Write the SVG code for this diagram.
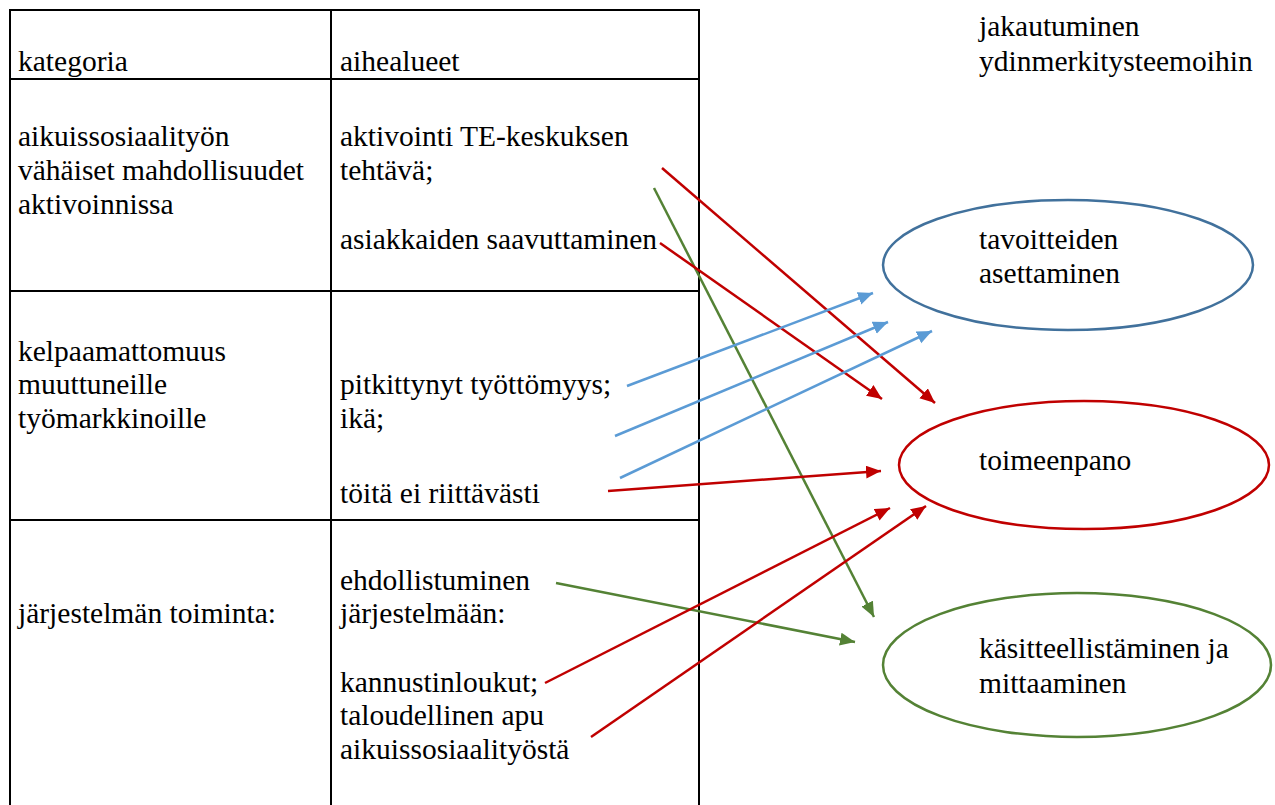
<svg xmlns="http://www.w3.org/2000/svg" width="1275" height="805" viewBox="0 0 1275 805">
<style>
.t{font-family:'Times New Roman','Liberation Serif',Tinos,serif;font-size:29.5px;fill:#000}
</style>
<defs>
<marker id="mr" markerUnits="userSpaceOnUse" markerWidth="16" markerHeight="14" refX="15" refY="6.5" orient="auto"><path d="M0,0 L15,6.5 L0,13 z" fill="#C00000"/></marker>
<marker id="mb" markerUnits="userSpaceOnUse" markerWidth="16" markerHeight="14" refX="15" refY="6.5" orient="auto"><path d="M0,0 L15,6.5 L0,13 z" fill="#5B9BD5"/></marker>
<marker id="mg" markerUnits="userSpaceOnUse" markerWidth="16" markerHeight="14" refX="15" refY="6.5" orient="auto"><path d="M0,0 L15,6.5 L0,13 z" fill="#548235"/></marker>
</defs>
<rect width="1275" height="805" fill="#fff"/>
<g id="table">
<path stroke="#000" stroke-width="2" fill="none" d="M10,805 V10 H699 V805 M331,10 V805 M10,79 H699 M10,291 H699 M10,520 H699"/>
<text class="t" x="18" y="71">kategoria</text>
<text class="t" x="340" y="71">aihealueet</text>
<text class="t" x="18" y="146">aikuissosiaalityön</text>
<text class="t" x="18" y="180">vähäiset mahdollisuudet</text>
<text class="t" x="18" y="214">aktivoinnissa</text>
<text class="t" x="340" y="146">aktivointi TE-keskuksen</text>
<text class="t" x="340" y="180">tehtävä;</text>
<text class="t" x="340" y="249">asiakkaiden saavuttaminen</text>
<text class="t" x="18" y="361">kelpaamattomuus</text>
<text class="t" x="18" y="394">muuttuneille</text>
<text class="t" x="18" y="428">työmarkkinoille</text>
<text class="t" x="340" y="394">pitkittynyt työttömyys;</text>
<text class="t" x="340" y="428">ikä;</text>
<text class="t" x="340" y="503">töitä ei riittävästi</text>
<text class="t" x="18" y="623">järjestelmän toiminta:</text>
<text class="t" x="340" y="590">ehdollistuminen</text>
<text class="t" x="340" y="623">järjestelmään:</text>
<text class="t" x="340" y="692">kannustinloukut;</text>
<text class="t" x="340" y="725">taloudellinen apu</text>
<text class="t" x="340" y="759">aikuissosiaalityöstä</text>
</g>
<g id="title">
<text class="t" x="979" y="36">jakautuminen</text>
<text class="t" x="979" y="71">ydinmerkitysteemoihin</text>
</g>
<g id="tavoitteiden">
<ellipse cx="1068" cy="265" rx="185" ry="65" fill="#fff" stroke="#41719C" stroke-width="2.5"/>
<text class="t" x="979" y="249">tavoitteiden</text>
<text class="t" x="979" y="283">asettaminen</text>
</g>
<g id="toimeenpano">
<ellipse cx="1084" cy="465" rx="185" ry="64" fill="#fff" stroke="#C00000" stroke-width="2.5"/>
<text class="t" x="979" y="470">toimeenpano</text>
</g>
<g id="kasitteellistaminen">
<ellipse cx="1077" cy="665" rx="194" ry="72" fill="#fff" stroke="#548235" stroke-width="2.5"/>
<text class="t" x="979" y="658">käsitteellistäminen ja</text>
<text class="t" x="979" y="693">mittaaminen</text>
</g>
<g id="connectors" fill="none" stroke-width="2.5">
<line stroke="#548235" marker-end="url(#mg)" x1="654" y1="188" x2="874" y2="617"/>
<line stroke="#C00000" marker-end="url(#mr)" x1="662" y1="168" x2="935" y2="403"/>
<line stroke="#C00000" marker-end="url(#mr)" x1="660" y1="243" x2="882" y2="399"/>
<line stroke="#5B9BD5" marker-end="url(#mb)" x1="627" y1="386" x2="873" y2="293"/>
<line stroke="#5B9BD5" marker-end="url(#mb)" x1="615" y1="436" x2="888" y2="322"/>
<line stroke="#5B9BD5" marker-end="url(#mb)" x1="620" y1="478" x2="932" y2="331"/>
<line stroke="#C00000" marker-end="url(#mr)" x1="608" y1="491" x2="881" y2="471"/>
<line stroke="#548235" marker-end="url(#mg)" x1="556" y1="583" x2="855" y2="642"/>
<line stroke="#C00000" marker-end="url(#mr)" x1="545" y1="683" x2="890" y2="508"/>
<line stroke="#C00000" marker-end="url(#mr)" x1="591" y1="737" x2="926" y2="506"/>
</g>
</svg>
